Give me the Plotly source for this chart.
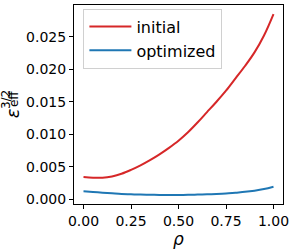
import plotly.graph_objects as go

rho = [0.0, 0.05, 0.1, 0.15, 0.2, 0.25, 0.3, 0.35, 0.4, 0.45, 0.5,
       0.55, 0.6, 0.65, 0.7, 0.75, 0.8, 0.85, 0.9, 0.95, 1.0]
initial = [0.0034, 0.0033, 0.0033, 0.0035, 0.0039, 0.0045, 0.0052, 0.0060, 0.0069, 0.0079, 0.0090,
           0.0103, 0.0118, 0.0134, 0.0150, 0.0167, 0.0186, 0.0205, 0.0226, 0.0252, 0.0285]
optimized = [0.0012, 0.0011, 0.0010, 0.0009, 0.0008, 0.00075, 0.0007, 0.00068, 0.00065, 0.00065, 0.00065,
             0.00066, 0.0007, 0.00074, 0.0008, 0.00088, 0.0010, 0.00112, 0.0013, 0.00155, 0.0019]
xticks = [0.0, 0.25, 0.5, 0.75, 1.0]
yticks = [0.0, 0.005, 0.01, 0.015, 0.02, 0.025]

FONT = "DejaVu Sans"
W, H = 293, 249
ML, MR, MT, MB = 74, 10, 4, 41

fig = go.Figure()
fig.add_trace(go.Scatter(x=rho, y=initial, mode="lines", name="initial",
                         line=dict(color="#d62728", width=2, shape="spline")))
fig.add_trace(go.Scatter(x=rho, y=optimized, mode="lines", name="optimized",
                         line=dict(color="#1f77b4", width=2, shape="spline")))

axis_common = dict(showline=True, linecolor="black", linewidth=1, mirror=True,
                   ticks="outside", ticklen=4, tickcolor="black", showgrid=False,
                   zeroline=False, tickfont=dict(family=FONT, size=14, color="black"))

fig.update_layout(
    width=W, height=H,
    margin=dict(l=ML, r=MR, t=MT, b=MB),
    paper_bgcolor="white", plot_bgcolor="white",
    font=dict(family=FONT, color="black"),
    showlegend=True,
    legend=dict(x=0.045, y=0.982, xanchor="left", yanchor="top",
                bgcolor="rgba(255,255,255,0.8)", bordercolor="#d0d0d0", borderwidth=1,
                font=dict(family=FONT, size=16, color="black"),
                itemwidth=42, tracegroupgap=0),
    xaxis=dict(range=[-0.05, 1.05], tickvals=xticks, tickformat=".2f",
               title=dict(text="<i>ρ</i>", font=dict(family=FONT, size=17), standoff=4),
               **axis_common),
    yaxis=dict(range=[-0.00075, 0.0299], tickvals=yticks, tickformat=".3f",
               **axis_common),
)

annots = [
    dict(text="<i>ε</i>", x=12, y=115, size=18),
    dict(text="3/2", x=5.5, y=101, size=12),
    dict(text="eff", x=13.5, y=101, size=12),
]
for a in annots:
    fig.add_annotation(text=a["text"],
                       x=(a["x"] - ML) / (W - ML - MR),
                       y=(H - MB - a["y"]) / (H - MT - MB),
                       xref="paper", yref="paper", showarrow=False, textangle=-90,
                       xanchor="center", yanchor="middle",
                       font=dict(family=FONT, size=a["size"], color="black"))

fig.write_html("out.html", config={"displayModeBar": False},
               post_script="document.body.style.margin='0';")
